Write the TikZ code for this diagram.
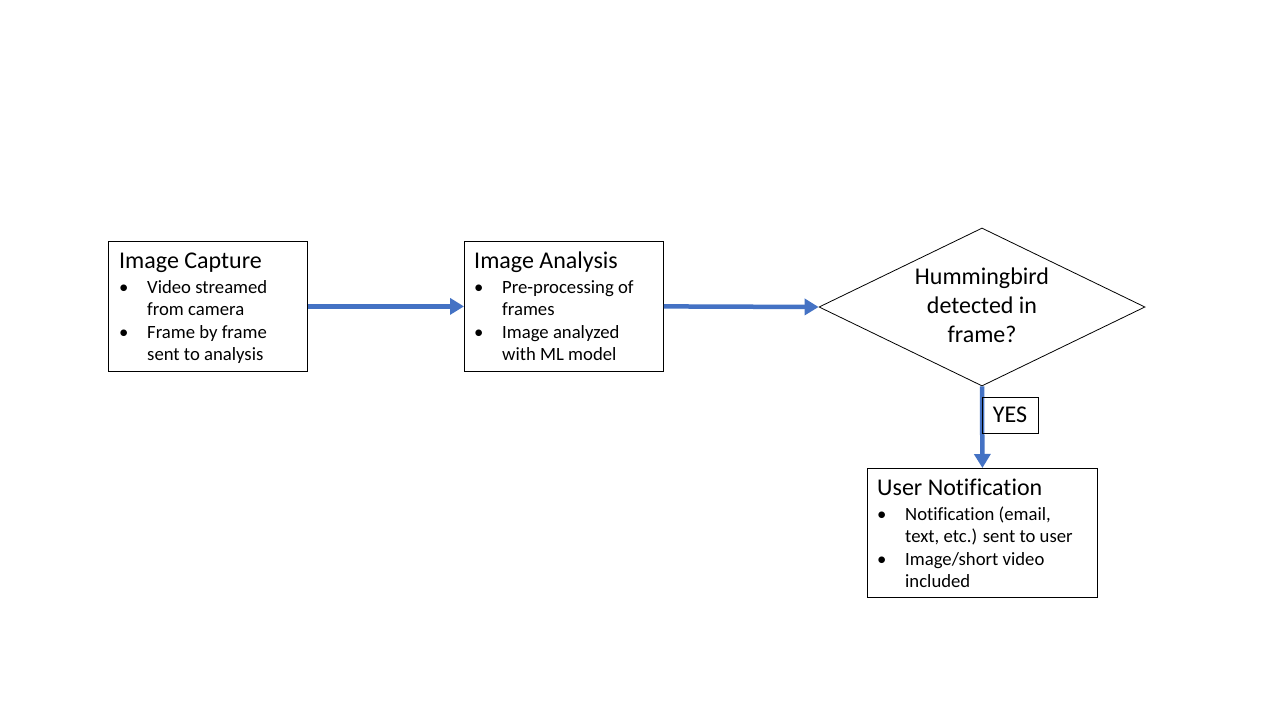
\documentclass[tikz,border=0pt]{standalone}
\usepackage{fontspec}
\setmainfont[Ligatures=NoCommon]{Carlito}
\usetikzlibrary{arrows.meta,shapes.geometric}
\definecolor{flowblue}{HTML}{4472C4}
\newcommand\ttl[1]{\hbox{\fontsize{24}{29}\selectfont #1}}
\newcommand\bl[1]{\hbox{\fontsize{18.7}{22.5}\selectfont\hbox to 28pt{\textbullet\hfil}#1}}
\newcommand\cl[1]{\hbox{\fontsize{18.7}{22.5}\selectfont\hbox to 28pt{\hfil}#1}}
\newcommand\cc[1]{\hbox to 0pt{\hss\fontsize{24}{29}\selectfont #1\hss}}
\tikzset{
  procbox/.style={draw=black, line width=0.8pt, anchor=north west, inner sep=0pt},
  boxtext/.style={anchor=base west, inner sep=0pt},
  flowarrow/.style={draw=flowblue, line width=4.5pt, -{Triangle[length=14pt,width=16pt]}},
}
\begin{document}
\begin{tikzpicture}[x=1pt,y=-1pt]
\useasboundingbox (0,0) rectangle (1280,720);
\fill[white] (0,0) rectangle (1280,720);

\node[procbox, minimum width=199pt, minimum height=130pt] (b1) at (108,241) {};
\node[boxtext] (t1) at (119,268) {\vtop{\baselineskip=25pt
  \ttl{Image Capture}\bl{Video streamed}\baselineskip=22.5pt
  \cl{from camera}\bl{Frame by frame}\cl{sent to analysis}}};

\node[procbox, minimum width=199pt, minimum height=130pt] (b2) at (464,241) {};
\node[boxtext] (t2) at (474,268) {\vtop{\baselineskip=25pt
  \ttl{Image Analysis}\bl{Pre-processing of}\baselineskip=22.5pt
  \cl{frames}\bl{Image analyzed}\cl{with ML model}}};

\node[draw=black, line width=0.8pt, diamond, minimum width=326pt, minimum height=158pt, inner sep=0pt] (d) at (982,307) {};
\node[anchor=base, inner sep=0pt] (dt) at (982,284) {\vtop{\baselineskip=29pt
  \cc{Hummingbird}\cc{detected in}\cc{frame?}}};

\node[procbox, minimum width=230pt, minimum height=129pt] (b3) at (867,468) {};
\node[boxtext] (t3) at (877,495) {\vtop{\baselineskip=25pt
  \ttl{User Notification}\bl{Notification (email,}\baselineskip=22.5pt
  \cl{text, etc.) sent to user}\bl{Image/short video}\cl{included}}};

\draw[flowarrow] (b1.east) -- (b2.west);
\draw[flowarrow] (b2.east) -- (d.west);
\draw[flowarrow] (d.south) -- (b3.north);

\node[draw=black, line width=0.8pt, minimum width=56pt, minimum height=36pt, inner sep=0pt, font=\fontsize{24}{29}\selectfont] (yes) at (1010,415) {YES};
\end{tikzpicture}
\end{document}
